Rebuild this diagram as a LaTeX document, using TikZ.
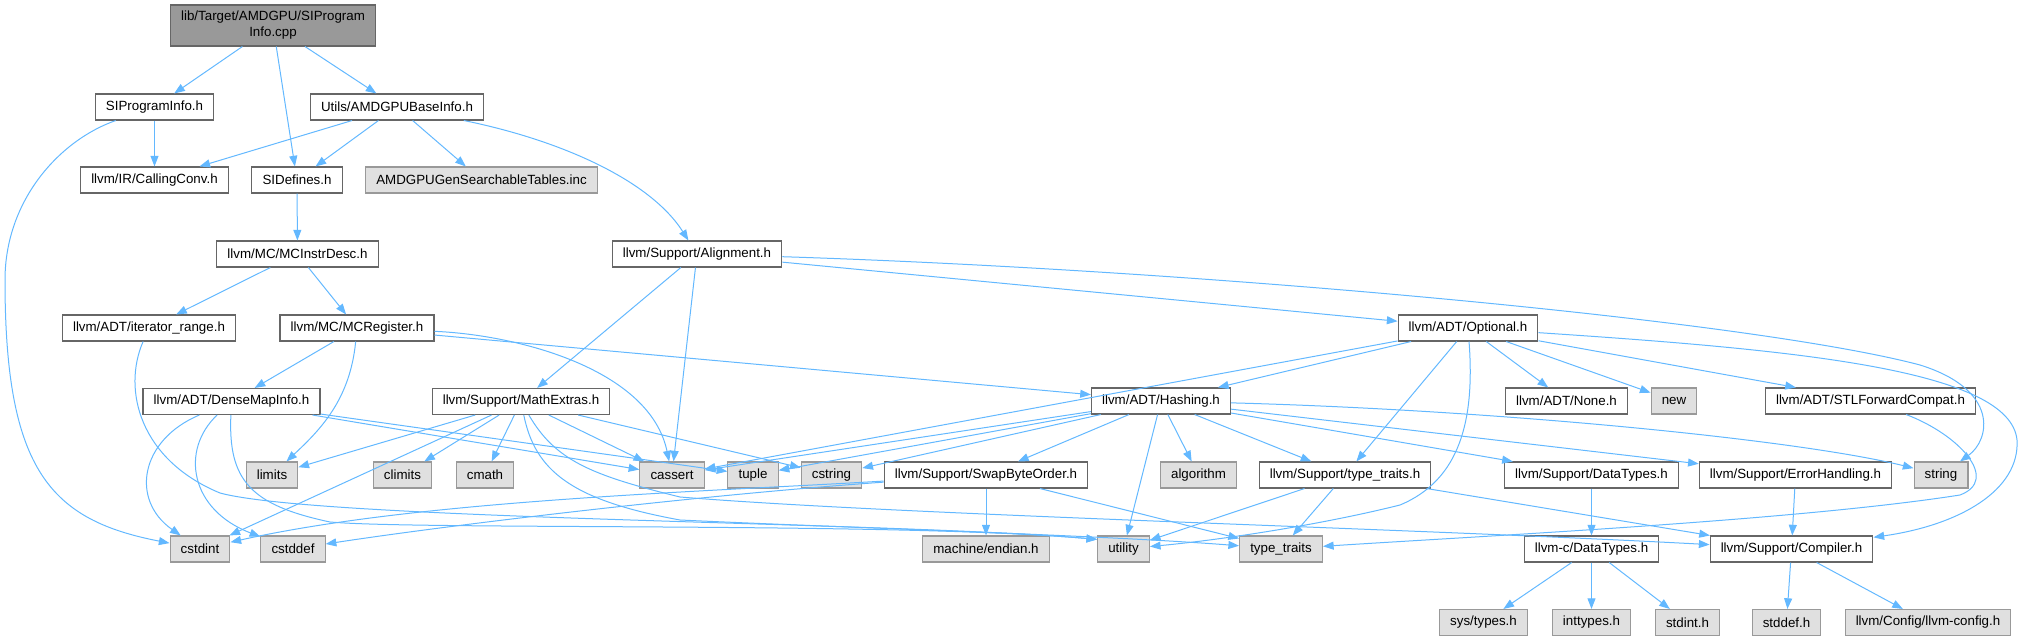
\documentclass[tikz,border=0pt]{standalone}
\usepackage{fontspec}
\setmainfont{Liberation Sans}
\usetikzlibrary{arrows.meta}
\definecolor{edgeblue}{HTML}{63B8FF}
\definecolor{docline}{HTML}{666666}
\definecolor{sysline}{HTML}{999999}
\definecolor{sysfill}{HTML}{E0E0E0}
\definecolor{rootfill}{HTML}{999999}
\begin{document}
\begin{tikzpicture}[x=0.75pt, y=-0.75pt,
  every node/.style={font=\fontsize{10}{12}\selectfont, inner xsep=8pt, inner ysep=2pt, minimum height=19.5pt, line width=0.8pt},
  docfile/.style={draw=docline, fill=white},
  sysfile/.style={draw=sysline, fill=sysfill},
  rootfile/.style={draw=docline, fill=rootfill, align=center, minimum height=30.75pt},
  incl/.style={draw=edgeblue, line width=0.75pt, -{Triangle[length=8pt,width=6pt]}}]
\useasboundingbox (0,0) rectangle (2023,641);
% files
\node[rootfile] (main) at (273,25.5) {lib/Target/AMDGPU/SIProgram\\Info.cpp};
\node[docfile] (siprog) at (154.5,107) {SIProgramInfo.h};
\node[docfile] (baseinfo) at (397,107) {Utils/AMDGPUBaseInfo.h};
\node[docfile] (callconv) at (154.5,180) {llvm/IR/CallingConv.h};
\node[docfile] (sidef) at (297,180) {SIDefines.h};
\node[sysfile] (gentab) at (481.5,180) {AMDGPUGenSearchableTables.inc};
\node[docfile] (instrdesc) at (297.5,254) {llvm/MC/MCInstrDesc.h};
\node[docfile] (align) at (697,254) {llvm/Support/Alignment.h};
\node[docfile] (iterrange) at (149,328) {llvm/ADT/iterator\_range.h};
\node[docfile] (mcreg) at (357,328) {llvm/MC/MCRegister.h};
\node[docfile] (optional) at (1468,328) {llvm/ADT/Optional.h};
\node[docfile] (densemap) at (231.5,401.5) {llvm/ADT/DenseMapInfo.h};
\node[docfile] (mathext) at (521,401.5) {llvm/Support/MathExtras.h};
\node[docfile] (hashing) at (1161,401) {llvm/ADT/Hashing.h};
\node[docfile] (none) at (1566.5,401) {llvm/ADT/None.h};
\node[sysfile] (new) at (1674,401) {new};
\node[docfile] (stlfwd) at (1870.5,401) {llvm/ADT/STLForwardCompat.h};
\node[sysfile] (limits) at (272,475) {limits};
\node[sysfile] (climits) at (402.5,475) {climits};
\node[sysfile] (cmath) at (485,475) {cmath};
\node[sysfile] (cassert) at (672,475) {cassert};
\node[sysfile] (tuple) at (753,475) {tuple};
\node[sysfile] (cstring) at (831.5,475) {cstring};
\node[docfile] (swapbyte) at (986,475) {llvm/Support/SwapByteOrder.h};
\node[sysfile] (algorithm) at (1198.5,475) {algorithm};
\node[docfile] (typetraitsh) at (1345,475) {llvm/Support/type\_traits.h};
\node[docfile] (datatypes) at (1591.5,475) {llvm/Support/DataTypes.h};
\node[docfile] (errhandling) at (1795.5,475) {llvm/Support/ErrorHandling.h};
\node[sysfile] (string) at (1941,475) {string};
\node[sysfile] (cstdint) at (200,549) {cstdint};
\node[sysfile] (cstddef) at (293,549) {cstddef};
\node[sysfile] (endian) at (986,549) {machine/endian.h};
\node[sysfile] (utility) at (1123.5,549) {utility};
\node[sysfile] (typetraits) at (1281,549) {type\_traits};
\node[docfile] (cdatatypes) at (1591.5,549) {llvm-c/DataTypes.h};
\node[docfile] (compiler) at (1791.5,549) {llvm/Support/Compiler.h};
\node[sysfile] (systypes) at (1483.5,622.5) {sys/types.h};
\node[sysfile] (inttypes) at (1591.5,622.5) {inttypes.h};
\node[sysfile] (stdint) at (1687.5,622.5) {stdint.h};
\node[sysfile] (stddef) at (1786.5,622.5) {stddef.h};
\node[sysfile] (llvmconfig) at (1928,622.5) {llvm/Config/llvm-config.h};
% includes
\draw[incl] (main) -- (siprog);
\draw[incl] (main) -- (sidef);
\draw[incl] (main) -- (baseinfo);
\draw[incl] (siprog) -- (callconv);
\draw[incl] (siprog) .. controls (60,140) and (5,200) .. (5,280) .. controls (5,470) and (50,520) .. (cstdint);
\draw[incl] (baseinfo) -- (callconv);
\draw[incl] (baseinfo) -- (sidef);
\draw[incl] (baseinfo) -- (gentab);
\draw[incl] (baseinfo) .. controls (560,140) and (650,180) .. (align);
\draw[incl] (sidef) -- (instrdesc);
\draw[incl] (instrdesc) -- (iterrange);
\draw[incl] (instrdesc) -- (mcreg);
\draw[incl] (iterrange) .. controls (122,390) and (140,460) .. (220,493) .. controls (320,520) and (900,522) .. (utility.160);
\draw[incl] (mcreg) -- (densemap);
\draw[incl] (mcreg) .. controls (350,400) and (320,430) .. (limits);
\draw[incl] (mcreg) .. controls (520,335) and (650,370) .. (cassert);
\draw[incl] (mcreg) -- (hashing);
\draw[incl] (align) -- (mathext);
\draw[incl] (align) -- (cassert);
\draw[incl] (align) -- (optional);
\draw[incl] (align) .. controls (1200,270) and (1750,320) .. (1920,365) .. controls (2000,390) and (1990,440) .. (string);
\draw[incl] (densemap) .. controls (140,440) and (130,500) .. (cstdint);
\draw[incl] (densemap) .. controls (180,450) and (190,510) .. (cstddef);
\draw[incl] (densemap) .. controls (228,480) and (250,505) .. (330,522) .. controls (420,530) and (900,522) .. (utility.160);
\draw[incl] (densemap) -- (tuple);
\draw[incl] (densemap) -- (cassert);
\draw[incl] (mathext) -- (limits);
\draw[incl] (mathext) -- (cstdint);
\draw[incl] (mathext) -- (climits);
\draw[incl] (mathext) -- (cmath);
\draw[incl] (mathext) -- (cassert);
\draw[incl] (mathext) -- (cstring);
\draw[incl] (mathext) .. controls (535,470) and (570,500) .. (680,520) .. controls (850,528) and (1100,535) .. (typetraits);
\draw[incl] (mathext) .. controls (555,460) and (590,475) .. (680,497) .. controls (900,515) and (1400,528) .. (compiler);
\draw[incl] (optional) -- (hashing);
\draw[incl] (optional) -- (cassert);
\draw[incl] (optional) -- (typetraitsh);
\draw[incl] (optional) .. controls (1475,420) and (1460,480) .. (1400,505) .. controls (1320,525) and (1220,540) .. (utility);
\draw[incl] (optional) -- (none);
\draw[incl] (optional) -- (new);
\draw[incl] (optional) -- (stlfwd);
\draw[incl] (optional) .. controls (1800,350) and (2010,370) .. (2017,440) .. controls (2020,490) and (1960,525) .. (compiler);
\draw[incl] (stlfwd) .. controls (1960,435) and (2000,480) .. (1960,495) .. controls (1800,520) and (1500,535) .. (typetraits);
\draw[incl] (hashing) -- (cassert);
\draw[incl] (hashing) -- (tuple);
\draw[incl] (hashing) -- (cstring);
\draw[incl] (hashing) -- (swapbyte);
\draw[incl] (hashing) -- (algorithm);
\draw[incl] (hashing) -- (utility);
\draw[incl] (hashing) -- (typetraitsh);
\draw[incl] (hashing) -- (datatypes);
\draw[incl] (hashing) -- (errhandling);
\draw[incl] (hashing) .. controls (1500,410) and (1800,440) .. (string);
\draw[incl] (swapbyte) .. controls (700,492) and (420,500) .. (cstdint);
\draw[incl] (swapbyte) .. controls (700,495) and (450,525) .. (cstddef);
\draw[incl] (swapbyte) -- (endian);
\draw[incl] (swapbyte) -- (typetraits);
\draw[incl] (typetraitsh) -- (utility);
\draw[incl] (typetraitsh) -- (typetraits);
\draw[incl] (typetraitsh) -- (compiler);
\draw[incl] (datatypes) -- (cdatatypes);
\draw[incl] (errhandling) -- (compiler);
\draw[incl] (cdatatypes) -- (systypes);
\draw[incl] (cdatatypes) -- (inttypes);
\draw[incl] (cdatatypes) -- (stdint);
\draw[incl] (compiler) -- (stddef);
\draw[incl] (compiler) -- (llvmconfig);
\end{tikzpicture}
\end{document}
